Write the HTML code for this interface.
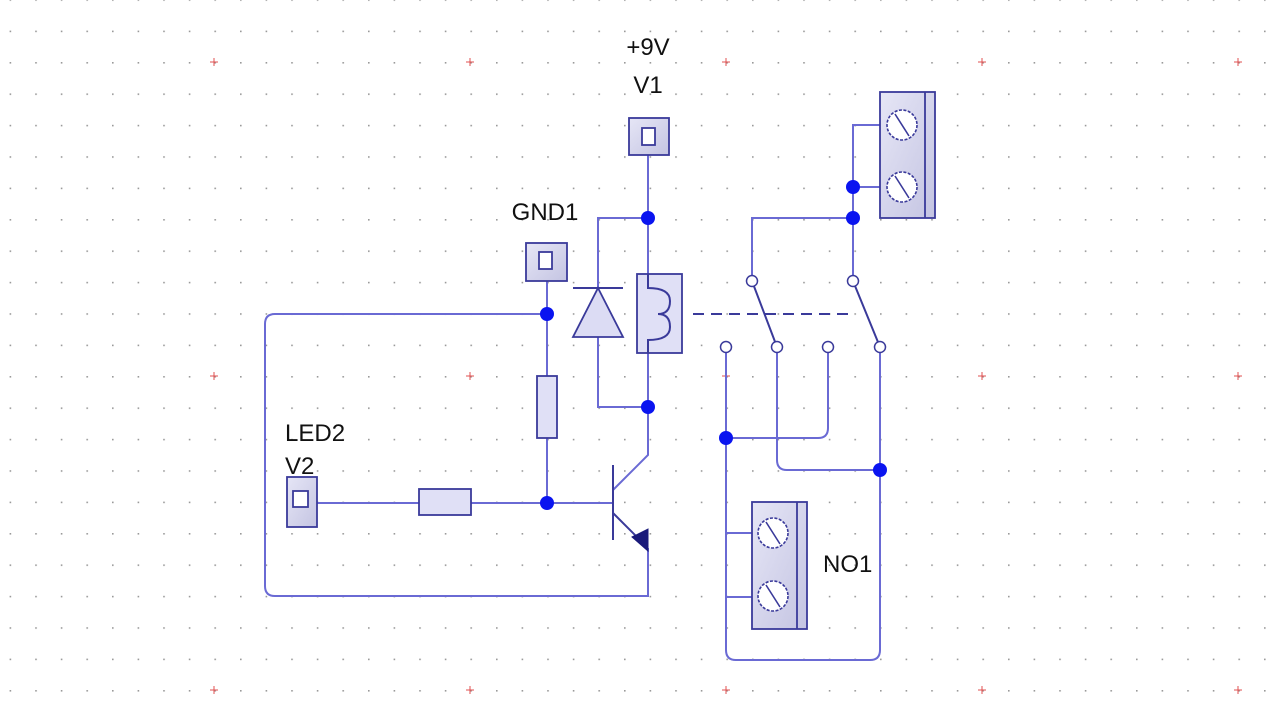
<!DOCTYPE html>
<html><head><meta charset="utf-8"><style>
html,body{margin:0;padding:0;background:#fff;width:1280px;height:720px;overflow:hidden}
svg{display:block}
text{font-family:"Liberation Sans",sans-serif;font-size:24px;fill:#111}
</style></head><body>
<svg width="1280" height="720" viewBox="0 0 1280 720">
<defs>
<pattern id="g" x="9.6" y="30.6" width="25.6" height="31.4" patternUnits="userSpaceOnUse">
<rect x="0" y="0" width="1.6" height="1.6" fill="#9a9a9a"/>
</pattern>
<linearGradient id="bx" x1="0" y1="0" x2="1" y2="1"><stop offset="0" stop-color="#e6e6f6"/><stop offset="1" stop-color="#c4c4e2"/></linearGradient>
</defs>
<rect width="1280" height="720" fill="url(#g)"/>
<g stroke="#e05050" stroke-width="1">
<path d="M210 62h8M214 58v8M466 62h8M470 58v8M722 62h8M726 58v8M978 62h8M982 58v8M1234 62h8M1238 58v8"/>
<path d="M210 376h8M214 372v8M466 376h8M470 372v8M722 376h8M726 372v8M978 376h8M982 372v8M1234 376h8M1238 372v8"/>
<path d="M210 690h8M214 686v8M466 690h8M470 686v8M722 690h8M726 686v8M978 690h8M982 686v8M1234 690h8M1238 686v8"/>
</g>
<g fill="none" stroke="#6a6ad4" stroke-width="2">
<path d="M547 314H275Q265 314 265 324V586Q265 596 275 596H648V548"/>
<path d="M648 155V407"/>
<path d="M648 218H598V407H648"/>
<path d="M547 281V503"/>
<path d="M317 503H613"/>
<path d="M648 407V455L613 490"/>
<path d="M752 281V218H853M853 281V125H880M853 187H880"/>
<path d="M726 347V650Q726 660 736 660H870Q880 660 880 650V347"/>
<path d="M828 347V428Q828 438 818 438H726"/>
<path d="M777 347V460Q777 470 787 470H880"/>
<path d="M726 533H752M726 597H752"/>
</g>
<g stroke="#3a3a9a" stroke-width="2" fill="none">
<path d="M752 281L777 347M853 281L880 347"/>
<path d="M693 314H850" stroke-dasharray="11,7"/>
<path d="M613 465V540M613 513L640 540"/>
<path d="M573 288H623"/>
</g>
<path d="M632 537L648 529L648 551Z" fill="#1a1a7a" stroke="#1a1a7a"/>
<path d="M598 288L623 337H573Z" fill="#dcdcf4" stroke="#3a3a9a" stroke-width="1.8"/>
<g stroke="#3a3a9a" stroke-width="1.8">
<rect x="629" y="118" width="40" height="37" fill="url(#bx)"/>
<rect x="642" y="128" width="13" height="17" fill="#fff"/>
<rect x="526" y="243" width="41" height="38" fill="url(#bx)"/>
<rect x="539" y="252" width="13" height="17" fill="#fff"/>
<rect x="287" y="477" width="30" height="50" fill="url(#bx)"/>
<rect x="293" y="491" width="15" height="16" fill="#fff"/>
<rect x="637" y="274" width="45" height="79" fill="#e0e0f6"/>
<rect x="537" y="376" width="20" height="62" fill="#e0e0f6"/>
<rect x="419" y="489" width="52" height="26" fill="#e0e0f6"/>
<rect x="880" y="92" width="55" height="126" fill="url(#bx)"/>
<path d="M925 92V218"/>
<rect x="752" y="502" width="55" height="127" fill="url(#bx)"/>
<path d="M797 502V629"/>
</g>
<path d="M648 274V288Q670 288 670 301Q670 314 658 314Q670 314 670 327Q670 340 648 340V353" fill="none" stroke="#3a3a9a" stroke-width="2"/>
<g stroke="#3a3a9a" stroke-width="1.6" fill="#fff" stroke-dasharray="3,1.5">
<circle cx="902" cy="125" r="15"/><circle cx="902" cy="187" r="15"/>
<circle cx="773" cy="533" r="15"/><circle cx="773" cy="596" r="15"/>
</g>
<g stroke="#3a3a9a" stroke-width="1.6">
<path d="M895 114L909 136M895 176L909 198M766 522L780 544M766 585L780 607"/>
</g>
<g fill="#fff" stroke="#3a3a9a" stroke-width="1.5">
<circle cx="752" cy="281" r="5.5"/><circle cx="853" cy="281" r="5.5"/>
<circle cx="726" cy="347" r="5.5"/><circle cx="777" cy="347" r="5.5"/>
<circle cx="828" cy="347" r="5.5"/><circle cx="880" cy="347" r="5.5"/>
</g>
<g fill="#0a14f0">
<circle cx="648" cy="218" r="7"/><circle cx="648" cy="407" r="7"/>
<circle cx="547" cy="314" r="7"/><circle cx="547" cy="503" r="7"/>
<circle cx="853" cy="218" r="7"/><circle cx="853" cy="187" r="7"/>
<circle cx="726" cy="438" r="7"/><circle cx="880" cy="470" r="7"/>
</g>
<text x="648" y="55" text-anchor="middle">+9V</text>
<text x="648" y="93" text-anchor="middle">V1</text>
<text x="545" y="220" text-anchor="middle">GND1</text>
<text x="285" y="441">LED2</text>
<text x="285" y="474">V2</text>
<text x="823" y="572">NO1</text>
</svg>
</body></html>
